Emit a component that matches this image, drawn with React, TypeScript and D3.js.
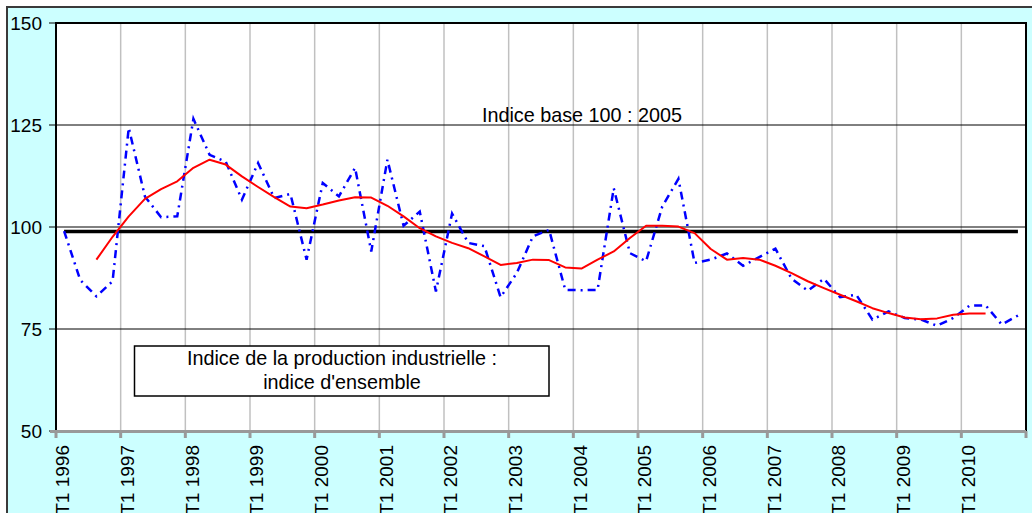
import React, { useEffect, useRef } from 'react';
import * as d3 from 'd3';

// quarterly categories T1 1996 .. T4 2010
const years = [1996, 1997, 1998, 1999, 2000, 2001, 2002, 2003, 2004, 2005, 2006, 2007, 2008, 2009, 2010];
const quarterNames = ['T1', 'T2', 'T3', 'T4'];

// Indice de la production industrielle (raw, dash-dot blue)
const indexValues = [
    99, 87, 83, 86.7, 124.3, 107.5, 102.4, 102.6, 126.5, 117.7,
    116, 106.7, 115.7, 107.1, 108.1, 92, 110.8, 107.5, 114.5, 94,
    116.5, 100.3, 103.8, 84.2, 103.3, 96.1, 95.3, 82.8, 88.7, 97.7,
    99.3, 84.6, 84.5, 84.6, 109.5, 93.6, 91.6, 105, 111.8, 91.2,
    92, 93.5, 90.5, 92.6, 94.7, 87.3, 84.4, 87.3, 82.8, 83.4,
    77.3, 79.3, 77.7, 77.3, 75.8, 77.7, 80.7, 80.8, 76.1, 78.3,
];

// moving average (red), from the 3rd to the 58th quarter
const trendStart = 2;
const trendValues = [
    92.0, 97.6, 102.6, 106.9, 109.3, 111.2, 114.5, 116.5, 115.3, 112.4,
    109.8, 107.3, 105.0, 104.6, 105.5, 106.5, 107.3, 107.2, 105.2, 102.6,
    99.7, 97.7, 96.1, 94.8, 92.8, 90.7, 91.2, 92.0, 91.9, 90.1,
    89.8, 92.0, 94.0, 97.3, 100.3, 100.3, 100.1, 98.5, 94.6, 92.0,
    92.4, 92.0, 90.5, 88.7, 86.7, 85.0, 83.4, 81.8, 80.1, 78.9,
    77.8, 77.4, 77.6, 78.5, 78.8, 78.8,
];

// average level (thick black)
const meanLevel = 98.9;

const yTicks = [50, 75, 100, 125, 150];
const yGrid = [75, 100, 125];

const FONT = '"Liberation Sans", Arial, sans-serif';

const App = () => {
    const svgRef = useRef(null);
    const width = 1032;
    const height = 513;

    useEffect(() => {
        const svg = d3.select(svgRef.current);
        svg.selectAll('*').remove();

        const left = 56, right = 1026, top = 23, bottom = 431;

        const categories = [];
        years.forEach(y => quarterNames.forEach(q => categories.push(`${q} ${y}`)));

        const x = d3.scaleBand().domain(categories).range([left, right]).padding(0);
        const cx = c => x(c) + x.bandwidth() / 2;
        const y = d3.scaleLinear().domain([50, 150]).range([bottom, top]);

        // chart area
        svg.append('rect')
            .attr('x', 7).attr('y', 7)
            .attr('width', 1060).attr('height', 540)
            .attr('fill', '#CCFFFF')
            .attr('stroke', '#3a3a3a')
            .attr('stroke-width', 2);

        // plot area
        svg.append('rect')
            .attr('x', left).attr('y', top)
            .attr('width', right - left).attr('height', bottom - top)
            .attr('fill', 'white');

        const yearStarts = categories.filter((c, i) => i % 4 === 0);

        // vertical grid
        svg.append('g')
            .selectAll('line')
            .data(yearStarts.slice(1))
            .enter()
            .append('line')
            .attr('x1', d => x(d)).attr('x2', d => x(d))
            .attr('y1', top).attr('y2', bottom)
            .attr('stroke', '#c0c0c0')
            .attr('stroke-width', 1.5);

        // horizontal grid
        svg.append('g')
            .selectAll('line')
            .data(yGrid)
            .enter()
            .append('line')
            .attr('x1', left).attr('x2', right)
            .attr('y1', d => y(d)).attr('y2', d => y(d))
            .attr('stroke', 'black')
            .attr('stroke-width', 1);

        // borders
        svg.append('path')
            .attr('d', `M${left},${bottom}V${top}H${right}V${bottom}`)
            .attr('fill', 'none')
            .attr('stroke', 'black')
            .attr('stroke-width', 2);

        // y ticks + labels
        svg.append('g')
            .selectAll('line')
            .data(yTicks)
            .enter()
            .append('line')
            .attr('x1', left - 7).attr('x2', left)
            .attr('y1', d => y(d)).attr('y2', d => y(d))
            .attr('stroke', 'black')
            .attr('stroke-width', 1);

        svg.append('g')
            .selectAll('text')
            .data(yTicks)
            .enter()
            .append('text')
            .attr('x', 42)
            .attr('y', d => y(d))
            .attr('dy', '0.36em')
            .attr('text-anchor', 'end')
            .style('font-family', FONT)
            .style('font-size', '19px')
            .text(d => d);

        // x axis (gray)
        svg.append('line')
            .attr('x1', left - 6).attr('x2', right)
            .attr('y1', bottom + 0.5).attr('y2', bottom + 0.5)
            .attr('stroke', '#999999')
            .attr('stroke-width', 3);

        svg.append('g')
            .selectAll('line')
            .data([...yearStarts.map(d => x(d)), right])
            .enter()
            .append('line')
            .attr('x1', d => d).attr('x2', d => d)
            .attr('y1', bottom).attr('y2', bottom + 7)
            .attr('stroke', '#999999')
            .attr('stroke-width', 3);

        svg.append('g')
            .selectAll('text')
            .data(yearStarts)
            .enter()
            .append('text')
            .attr('transform', d => `translate(${cx(d) - 1},${445}) rotate(-90)`)
            .attr('dy', '0.33em')
            .attr('text-anchor', 'end')
            .style('font-family', FONT)
            .style('font-size', '19px')
            .text(d => d);

        // mean level
        const line = d3.line().x(d => cx(d[0])).y(d => y(d[1]));
        svg.append('path')
            .datum(categories.map(c => [c, meanLevel]))
            .attr('fill', 'none')
            .attr('stroke', 'black')
            .attr('stroke-width', 3.5)
            .attr('d', line);

        // raw index
        svg.append('path')
            .datum(categories.map((c, i) => [c, indexValues[i]]))
            .attr('fill', 'none')
            .attr('stroke', '#0000FF')
            .attr('stroke-width', 2.5)
            .attr('stroke-dasharray', '8,5,2,5')
            .attr('d', line);

        // trend
        svg.append('path')
            .datum(trendValues.map((v, i) => [categories[i + trendStart], v]))
            .attr('fill', 'none')
            .attr('stroke', '#FF0000')
            .attr('stroke-width', 2)
            .attr('stroke-linejoin', 'round')
            .attr('d', line);

        // annotations
        svg.append('text')
            .attr('x', 582).attr('y', 122)
            .attr('text-anchor', 'middle')
            .style('font-family', FONT)
            .style('font-size', '19.8px')
            .text('Indice base 100 : 2005');

        svg.append('rect')
            .attr('x', 134.5).attr('y', 346)
            .attr('width', 414.5).attr('height', 50)
            .attr('fill', 'white')
            .attr('stroke', 'black')
            .attr('stroke-width', 1.5);

        const box = svg.append('text')
            .attr('text-anchor', 'middle')
            .style('font-family', FONT)
            .style('font-size', '19.8px');
        box.append('tspan').attr('x', 342).attr('y', 365).text('Indice de la production industrielle :');
        box.append('tspan').attr('x', 342).attr('y', 389).text("indice d'ensemble");
    }, []);

    return (
        <svg
            ref={svgRef}
            width={width}
            height={height}
            style={{ position: 'absolute', left: 0, top: 0, display: 'block' }}
        />
    );
};

export default App;
